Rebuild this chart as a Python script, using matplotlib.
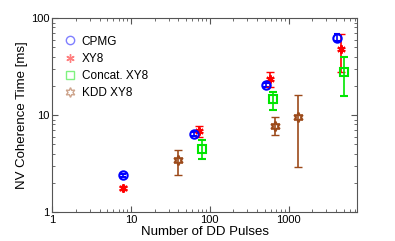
import numpy as np
import matplotlib.pyplot as plt
from matplotlib.ticker import LogLocator, NullFormatter

plt.rcParams['font.family'] = ['Liberation Sans', 'DejaVu Sans']

# données
n_cpmg = [8, 64, 512, 4096]
t_cpmg = [2.4, 6.4, 20.5, 63]
e_cpmg = [0.08, 0.3, 1.0, 5]

n_xy8 = [8, 72, 576, 4608]
t_xy8 = [1.77, 6.9, 23.5, 48]
e_xy8_lo = [0.1, 1.0, 4.0, 20]
e_xy8_hi = [0.1, 0.8, 4.5, 21]

n_cxy8 = [80, 640, 5120]
t_cxy8 = [4.5, 14.5, 28]
e_cxy8_lo = [1.0, 3.2, 12.2]
e_cxy8_hi = [1.0, 2.9, 12]

n_kdd = [40, 680, 1300]
t_kdd = [3.45, 7.8, 9.6]
e_kdd_lo = [1.05, 1.6, 6.7]
e_kdd_hi = [0.95, 1.7, 6.6]

fig = plt.figure(figsize=(3.95, 2.41), dpi=100)
ax = fig.add_axes([0.132, 0.12, 0.772, 0.805])

ax.errorbar(n_cpmg, t_cpmg, yerr=e_cpmg, fmt='o', color='#0000ff', mfc='none',
            mew=1.5, ms=6, capsize=2.5, elinewidth=1.2, label='CPMG')
ax.errorbar(n_xy8, t_xy8, yerr=[e_xy8_lo, e_xy8_hi], fmt='none', ecolor='#ff0000',
            capsize=3, elinewidth=1.2)
ax.plot(n_xy8, t_xy8, ls='none', marker=(6, 2, 0), color='#ff0000', mew=1.5, ms=6)
ax.errorbar(n_cxy8, t_cxy8, yerr=[e_cxy8_lo, e_cxy8_hi], fmt='s', color='#00e600',
            mfc='none', mew=1.5, ms=6, capsize=3, elinewidth=1.2)
ax.errorbar(n_kdd, t_kdd, yerr=[e_kdd_lo, e_kdd_hi], fmt='none', ecolor='#9c4a1a',
            capsize=3, elinewidth=1.2)
ax.plot(n_kdd, t_kdd, ls='none', marker=(6, 1, 0), color='#9c4a1a', mfc='none', mew=1.5, ms=7)

# légende (marqueurs pâles)
h1, = ax.plot([], [], 'o', color='#0000ff', mfc='none', alpha=0.5, ms=6)
h2, = ax.plot([], [], ls='none', marker=(6, 2, 0), color='#ff0000', alpha=0.5, ms=6)
h3, = ax.plot([], [], 's', color='#00e600', mfc='none', alpha=0.5, ms=6)
h4, = ax.plot([], [], ls='none', marker=(6, 1, 0), color='#9c4a1a', mfc='none', alpha=0.5, ms=7)
ax.legend([h1, h2, h3, h4], ['CPMG', 'XY8', 'Concat. XY8', 'KDD XY8'], loc='upper left',
          frameon=False, fontsize=8.5, handletextpad=0.4, labelspacing=0.45,
          borderaxespad=0, borderpad=0, bbox_to_anchor=(0.035, 0.91), handlelength=1.2)

ax.set_xscale('log')
ax.set_yscale('log')
ax.set_xlim(1, 7400)
ax.set_ylim(1, 100)
ax.set_xticks([1, 10, 100, 1000])
ax.set_xticklabels(['1', '10', '100', '1000'])
ax.set_yticks([1, 10, 100])
ax.set_yticklabels(['1', '10', '100'])
ax.xaxis.set_minor_locator(LogLocator(base=10, subs=np.arange(2, 10)))
ax.yaxis.set_minor_locator(LogLocator(base=10, subs=np.arange(2, 10)))
ax.xaxis.set_minor_formatter(NullFormatter())
ax.yaxis.set_minor_formatter(NullFormatter())
ax.tick_params(which='both', direction='in', top=True, right=True, labelsize=8,
               color='#555555', pad=2)
ax.tick_params(which='major', length=4)
ax.tick_params(which='minor', length=2)
for s in ax.spines.values():
    s.set_color('#555555')

ax.set_xlabel('Number of DD Pulses', fontsize=9.5, labelpad=1)
ax.set_ylabel('NV Coherence Time [ms]', fontsize=9.5, labelpad=2)

fig.savefig('out.png', dpi=100)
